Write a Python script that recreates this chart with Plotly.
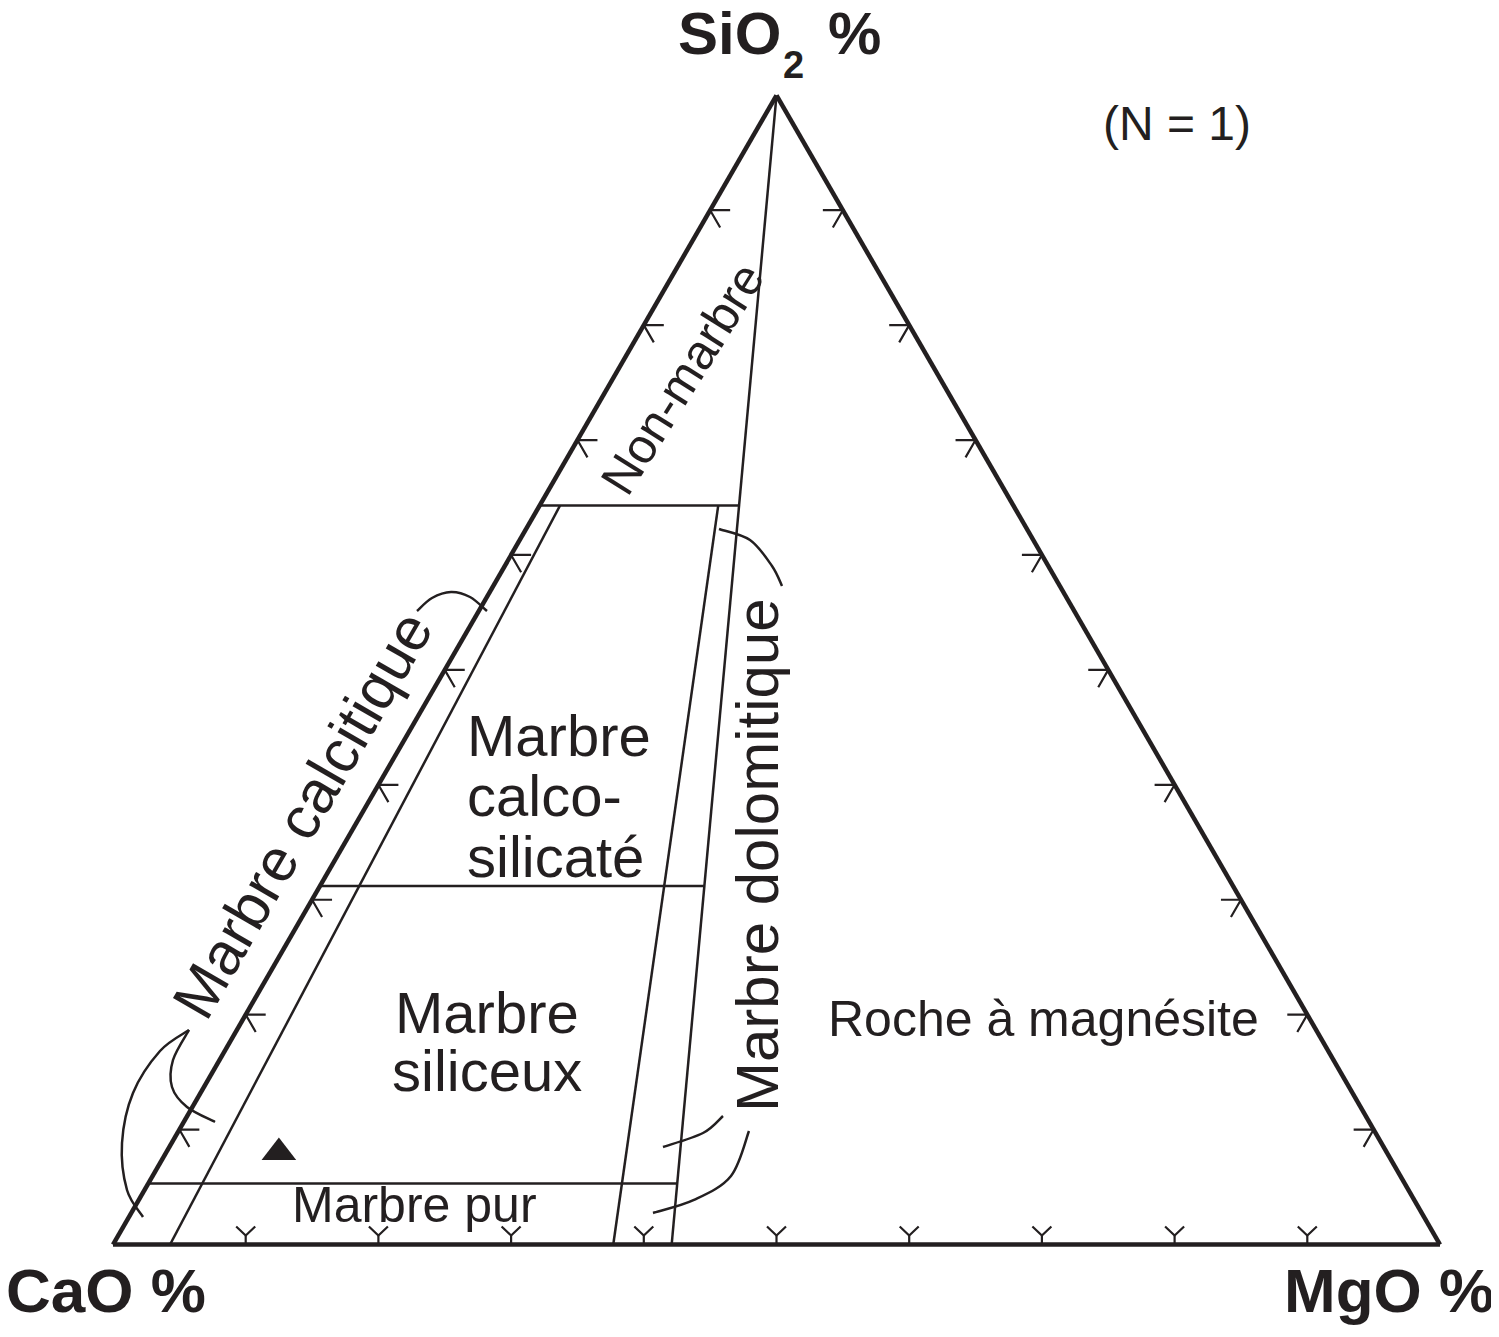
import math
import plotly.graph_objects as go

# ---------------- data ----------------
tick_values = [10, 20, 30, 40, 50, 60, 70, 80, 90]          # % graduations on every side
mgo_join_limits = [4.3, 37.7, 42.1]                          # MgO % on CaO-MgO join for lines from the SiO2 apex
sio2_limits = [5.3, 31.2, 64.3]                              # SiO2 % levels of the horizontal limits
sample_sio2 = [8.0]
sample_cao = [83.5]
sample_mgo = [8.5]

# ---------------- page / style ----------------
PAD = 8                      # default body margin of the html page
W, HF = 1499 - PAD, 1337 - PAD
INK = "#231f20"
FONT = "Liberation Sans"
S = 1327.0
HT = S * math.sqrt(3) / 2
X0, YBASE = 113.0, 1244.5
CX = X0 + S / 2
CY = YBASE - HT / 2


def px(x):
    return (x - PAD) / W


def py(y):
    return 1 - (y - PAD) / HF


dom_x = [px(CX - S / 2), px(CX + S / 2)]
ycen = py(CY)
dy_half = HT / 2 / HF + 0.002
dom_y = [ycen - dy_half, ycen + dy_half]


def off(a, c, dx, dy):
    """shift a ternary point (a, c in %) by a small pixel offset"""
    da = dy / HT * 100
    dc = dx / S * 100 - da / 2
    return a + da, c + dc


fig = go.Figure()

# ---------------- boundary lines ----------------
c_cal, c_calco, c_dol = mgo_join_limits
h_top = sio2_limits[2]
seg_a, seg_c = [], []


def add_seg(a1, c1, a2, c2):
    seg_a.extend([a1, a2, None])
    seg_c.extend([c1, c2, None])


add_seg(0, c_cal, h_top, c_cal * (1 - h_top / 100))
add_seg(0, c_calco, h_top, c_calco * (1 - h_top / 100))
add_seg(0, c_dol, 100, 0)
for h in sio2_limits:
    add_seg(h, 0, h, c_dol * (1 - h / 100))
seg_b = [None if a is None else 100 - a - c for a, c in zip(seg_a, seg_c)]
fig.add_trace(go.Scatterternary(a=seg_a, b=seg_b, c=seg_c, mode="lines",
                                line=dict(color=INK, width=2.5), hoverinfo="skip",
                                connectgaps=False))

# ---------------- chevron ticks ----------------
ta, tc = [], []
for t in tick_values:
    # left side (CaO-SiO2), SiO2 = t
    p1 = off(t, 0, 20, 0)
    p2 = off(t, 0, 10, -17.3)
    ta += [p1[0], t, p2[0], None]
    tc += [p1[1], 0, p2[1], None]
    # right side (SiO2-MgO), SiO2 = t
    q1 = off(t, 100 - t, -20, 0)
    q2 = off(t, 100 - t, -10, -17.3)
    ta += [q1[0], t, q2[0], None]
    tc += [q1[1], 100 - t, q2[1], None]
    # bottom side (CaO-MgO), MgO = t
    fk = off(0, t, 0, 9)
    l1 = off(0, t, -9.5, 18)
    r1 = off(0, t, 9.5, 18)
    ta += [0, fk[0], None, l1[0], fk[0], r1[0], None]
    tc += [t, fk[1], None, l1[1], fk[1], r1[1], None]
tb = [None if a is None else 100 - a - c for a, c in zip(ta, tc)]
fig.add_trace(go.Scatterternary(a=ta, b=tb, c=tc, mode="lines",
                                line=dict(color=INK, width=2.2), hoverinfo="skip",
                                connectgaps=False))

# ---------------- sample ----------------
fig.add_trace(go.Scatterternary(a=sample_sio2, b=sample_cao, c=sample_mgo, mode="markers",
                                marker=dict(symbol="triangle-up", size=30, color=INK,
                                            line=dict(width=0))))

axis_style = dict(showgrid=False, showticklabels=False, ticks="", showline=True,
                  linecolor=INK, linewidth=4.5, min=0, title=dict(text=""))

# ---------------- texts ----------------
def ann(text, x, y, size, angle=0, xanchor="center", weight="normal", family=FONT):
    return dict(text=text, x=px(x), y=py(y), xref="paper", yref="paper",
                showarrow=False, textangle=angle, xanchor=xanchor, yanchor="middle",
                font=dict(size=size, family=family, color=INK, weight=weight))


annotations = [
    ann("SiO", 676, 33, 60, xanchor="left", weight="bold"),
    ann("2", 781, 65, 38, xanchor="left", weight="bold"),
    ann("%", 826, 33, 60, xanchor="left", weight="bold"),
    ann("CaO %", 106, 1290, 62, weight="bold"),
    ann("MgO %", 1389, 1290, 62, weight="bold"),
    ann("(N = 1)", 1177, 123, 48),
    ann("Non-marbre", 682, 379, 49, angle=-58),
    ann("Marbre calcitique", 302, 815, 60, angle=-60),
    ann("Marbre dolomitique", 758, 855, 60, angle=-90),
    ann("Marbre", 465, 736, 58, xanchor="left"),
    ann("calco-", 465, 796, 58, xanchor="left"),
    ann("silicaté", 465, 856, 58, xanchor="left"),
    ann("Marbre", 487, 1012, 58),
    ann("siliceux", 487, 1070, 58),
    ann("Marbre pur", 414, 1205, 50),
    ann("Roche à magnésite", 1043, 1019, 50),
]

# ---------------- leader curves ----------------
def smooth_path(pts):
    P = [(px(x), py(y)) for x, y in pts]
    d = f"M{P[0][0]:.5f},{P[0][1]:.5f}"
    for i in range(len(P) - 1):
        p0 = P[i - 1] if i > 0 else P[i]
        p1, p2 = P[i], P[i + 1]
        p3 = P[i + 2] if i + 2 < len(P) else P[i + 1]
        c1 = (p1[0] + (p2[0] - p0[0]) / 6, p1[1] + (p2[1] - p0[1]) / 6)
        c2 = (p2[0] - (p3[0] - p1[0]) / 6, p2[1] - (p3[1] - p1[1]) / 6)
        d += f" C{c1[0]:.5f},{c1[1]:.5f} {c2[0]:.5f},{c2[1]:.5f} {p2[0]:.5f},{p2[1]:.5f}"
    return d


leaders = [
    [(417, 611), (432, 598), (451, 592), (470, 597), (487, 611)],
    [(189, 1030), (160, 1051), (133, 1093), (122, 1143), (127, 1190), (143, 1217)],
    [(189, 1030), (173, 1060), (172, 1087), (187, 1107), (215, 1122)],
    [(719, 529), (750, 540), (772, 566), (782, 586)],
    [(723, 1116), (703, 1133), (663, 1147)],
    [(749, 1131), (731, 1176), (694, 1200), (653, 1213)],
]
shapes = [dict(type="path", xref="paper", yref="paper", path=smooth_path(p),
               line=dict(color=INK, width=2.5), fillcolor="rgba(0,0,0,0)") for p in leaders]

fig.update_layout(
    width=W, height=HF,
    margin=dict(l=0, r=0, t=0, b=0),
    paper_bgcolor="white", plot_bgcolor="white",
    showlegend=False,
    ternary=dict(sum=100, domain=dict(x=dom_x, y=dom_y), bgcolor="white",
                 aaxis=axis_style, baxis=axis_style, caxis=axis_style),
    annotations=annotations,
    shapes=shapes,
)

fig.write_html("out.html")
